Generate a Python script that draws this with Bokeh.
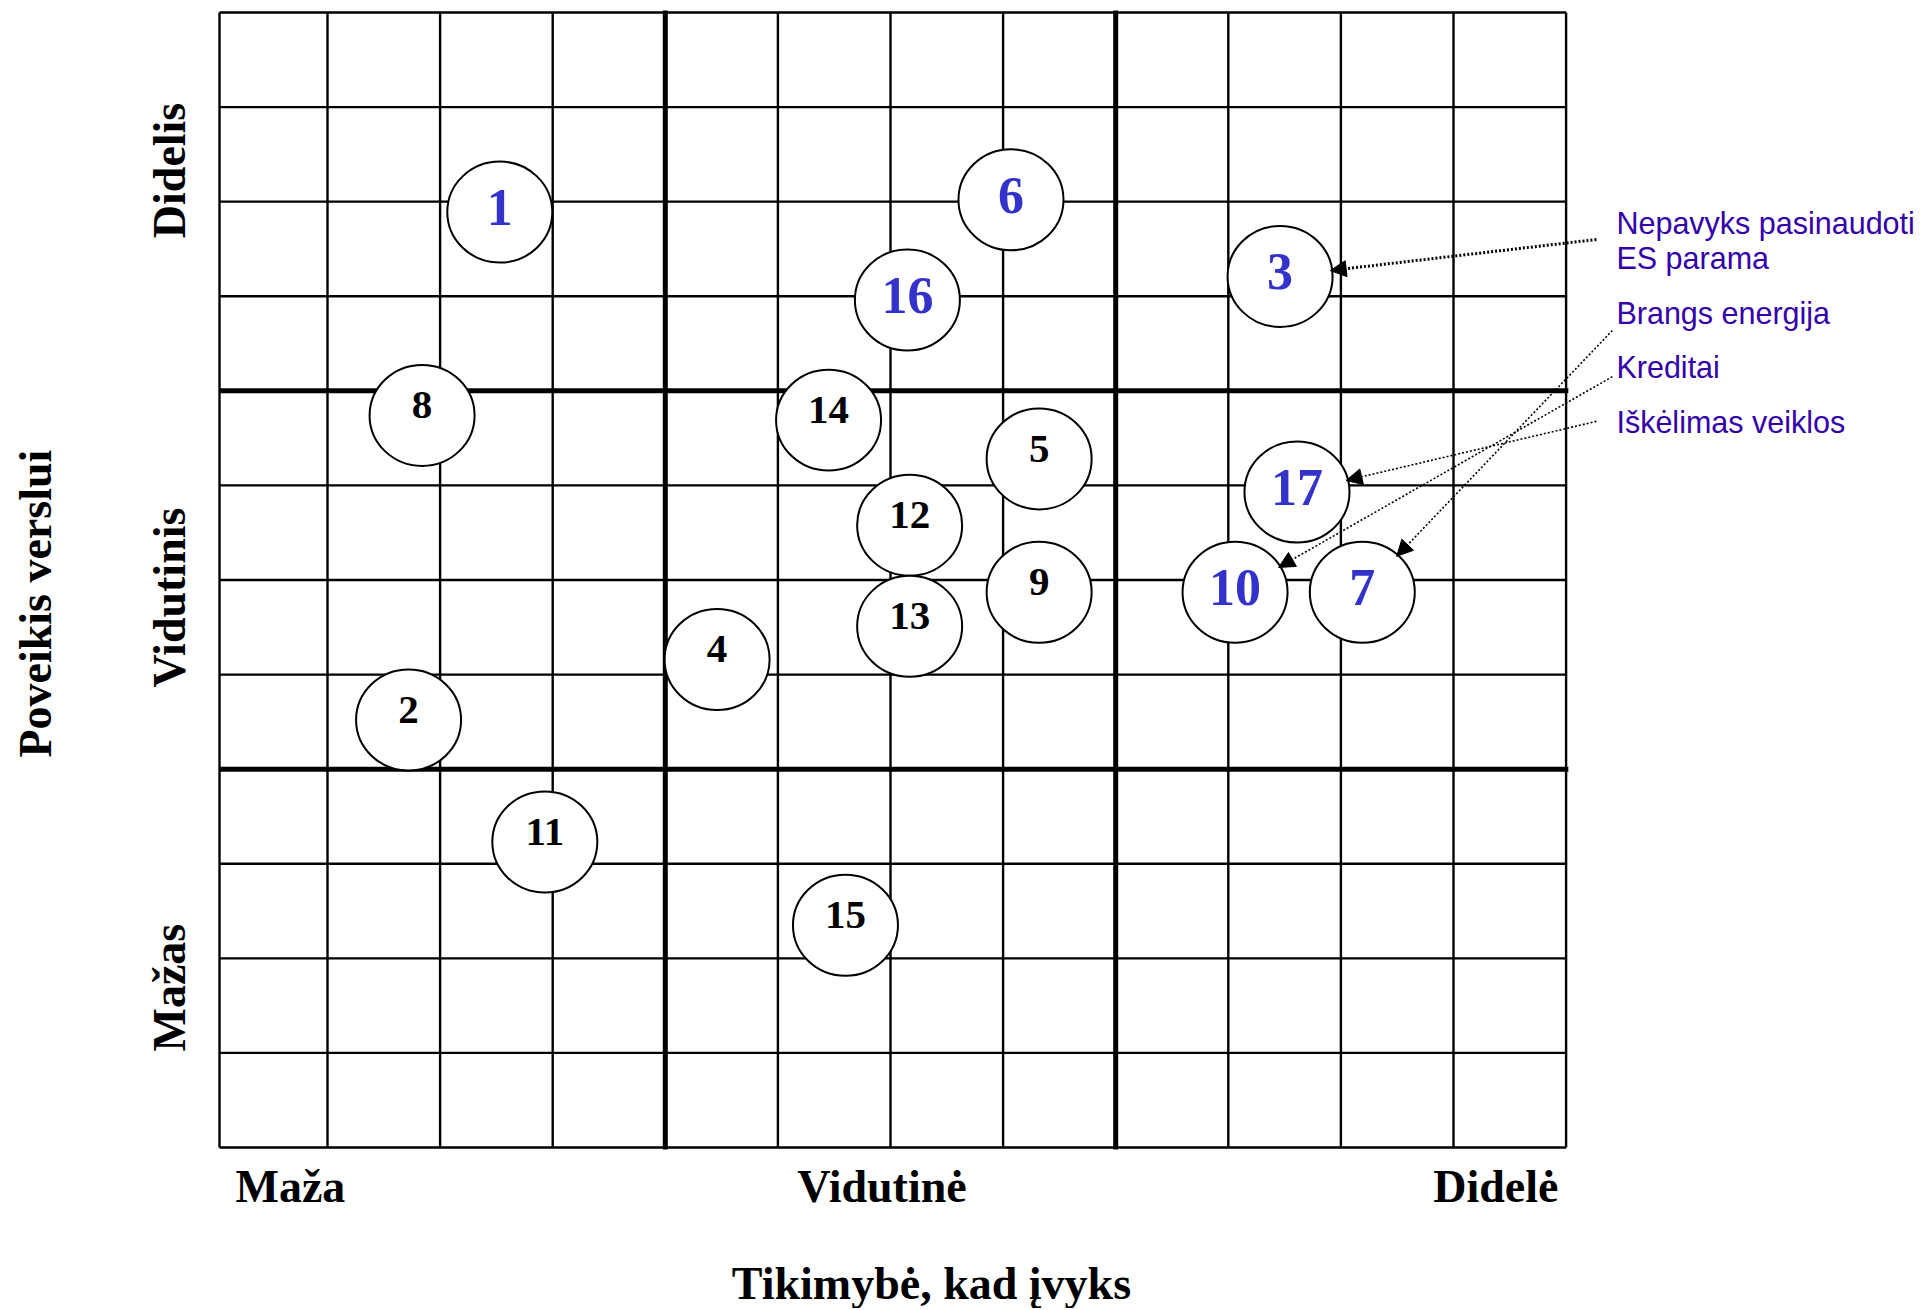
import math
from bokeh.plotting import figure
from bokeh.models import ColumnDataSource, Range1d, Arrow, NormalHead
from bokeh.core.properties import value
from bokeh.embed import file_html
from bokeh.resources import INLINE

# ---------------- data ----------------
risk_ids = ["1", "2", "3", "4", "5", "6", "7", "8", "9", "10",
            "11", "12", "13", "14", "15", "16", "17"]
likelihood = [2.53, 1.72, 9.46, 4.46, 7.32, 7.07, 10.19, 1.84, 7.32, 9.06,
              2.93, 6.17, 6.17, 5.45, 5.60, 6.15, 9.61]
impact = [9.89, 4.52, 9.21, 5.16, 7.28, 10.02, 5.87, 7.74, 5.87, 5.87,
          3.23, 6.58, 5.51, 7.69, 2.35, 8.96, 6.93]
highlighted = ["1", "3", "6", "7", "10", "16", "17"]

x_tick_labels = ["Maža", "Vidutinė", "Didelė"]
y_tick_labels = ["Mažas", "Vidutinis", "Didelis"]
x_title = "Tikimybė, kad įvyks"
y_title = "Poveikis verslui"

note_lines = ["Nepavyks pasinaudoti", "ES parama", "Brangs energija",
              "Kreditai", "Iškėlimas veiklos"]
arrow_targets = ["3", "7", "10", "17"]

grid_n = 12
major_lines = [4, 8]

# ---------------- layout ----------------
W, H = 1931, 1308
col_px, row_px = 112.6, 94.583
left_px, bottom_px = 214.4, 1147
x0 = -left_px / col_px
x1 = (W - left_px) / col_px
y1 = bottom_px / row_px
y0 = (bottom_px - H) / row_px
left_edge = 0.041   # the drawn left border sits slightly inside x = 0

p = figure(width=W, height=H, x_range=Range1d(x0, x1), y_range=Range1d(y0, y1),
           toolbar_location=None, output_backend="svg",
           x_axis_location=None, y_axis_location=None, min_border=0)
p.grid.visible = False
p.outline_line_color = None
p.background_fill_color = "white"
p.border_fill_color = "white"

# grid lines
v_thin = [left_edge] + [i for i in range(1, grid_n + 1) if i not in major_lines]
h_thin = [i for i in range(grid_n + 1) if i not in major_lines]
p.segment(x0=v_thin, y0=[0] * len(v_thin), x1=v_thin, y1=[grid_n] * len(v_thin),
          line_color="black", line_width=2.4)
p.segment(x0=[left_edge] * len(h_thin), y0=h_thin, x1=[grid_n] * len(h_thin), y1=h_thin,
          line_color="black", line_width=2.4)
p.segment(x0=major_lines, y0=[-0.02] * 2, x1=major_lines, y1=[grid_n + 0.02] * 2,
          line_color="black", line_width=5)
p.segment(x0=[left_edge] * 2, y0=major_lines, x1=[grid_n + 0.02] * 2, y1=major_lines,
          line_color="black", line_width=5)

# circles
ell_w = 105 / col_px
ell_h = 101 / row_px
src = ColumnDataSource(dict(x=likelihood, y=impact, id=risk_ids))
p.ellipse(x="x", y="y", width=ell_w, height=ell_h, source=src,
          fill_color="white", line_color="black", line_width=2)

blue = [i for i, r in enumerate(risk_ids) if r in highlighted]
black = [i for i, r in enumerate(risk_ids) if r not in highlighted]
src_blue = ColumnDataSource(dict(x=[likelihood[i] for i in blue],
                                 y=[impact[i] + 4.5 / row_px for i in blue],
                                 t=[risk_ids[i] for i in blue]))
src_black = ColumnDataSource(dict(x=[likelihood[i] for i in black],
                                  y=[impact[i] + 10 / row_px for i in black],
                                  t=[risk_ids[i] for i in black]))
p.text(x="x", y="y", text="t", source=src_blue, text_color="#3333CC",
       text_font=value("Liberation Serif"), text_font_style="bold",
       text_font_size=value("52px"), text_align="center", text_baseline="alphabetic")
p.text(x="x", y="y", text="t", source=src_black, text_color="black",
       text_font=value("Liberation Serif"), text_font_style="bold",
       text_font_size=value("41px"), text_align="center", text_baseline="alphabetic")

# axis category labels
serif = dict(text_font=value("Liberation Serif"), text_font_style="bold",
             text_font_size=value("46px"), text_color="black")
xt_x = [0.183, 5.924, 11.932]
xt_align = ["left", "center", "right"]
for lbl, xx, al in zip(x_tick_labels, xt_x, xt_align):
    p.text(x=[xx], y=[-0.4176], text=[lbl], text_align=al,
           text_baseline="alphabetic", **serif)
yt_y = [1.69, 5.815, 10.33]
p.text(x=[-0.399] * 3, y=yt_y, text=y_tick_labels, angle=math.pi / 2,
       text_align="center", text_baseline="alphabetic", **serif)
p.text(x=[6.364], y=[-1.443], text=[x_title], text_align="center",
       text_baseline="alphabetic", **serif)
p.text(x=[-1.589], y=[5.75], text=[y_title], angle=math.pi / 2,
       text_align="center", text_baseline="alphabetic", **serif)

# notes
note_y = [9.777, 9.407, 8.825, 8.254, 7.673]
p.text(x=[12.447] * len(note_lines), y=note_y, text=note_lines,
       text_font=value("Liberation Sans"), text_font_size=value("30.5px"),
       text_color="#3300AA", text_align="left", text_baseline="alphabetic")

# arrows from notes to circles
arrow_start = [(12.269, 9.60), (12.411, 8.638), (12.411, 8.15), (12.269, 7.677)]
arrow_width = [3, 1.6, 1.6, 1.6]
rx, ry = 50.5, 49.0
for tgt, (sx, sy), lw in zip(arrow_targets, arrow_start, arrow_width):
    k = risk_ids.index(tgt)
    cx, cy = likelihood[k], impact[k]
    dx = (sx - cx) * col_px
    dy = (sy - cy) * row_px
    t = 1.0 / math.sqrt((dx / rx) ** 2 + (dy / ry) ** 2)
    ex = cx + t * dx / col_px
    ey = cy + t * dy / row_px
    p.add_layout(Arrow(end=NormalHead(size=16, fill_color="black", line_color="black",
                                      line_width=1),
                       x_start=sx, y_start=sy, x_end=ex, y_end=ey,
                       line_color="black", line_width=lw, line_dash="2 2"))

open("out.html", "w").write(file_html(p, INLINE))
